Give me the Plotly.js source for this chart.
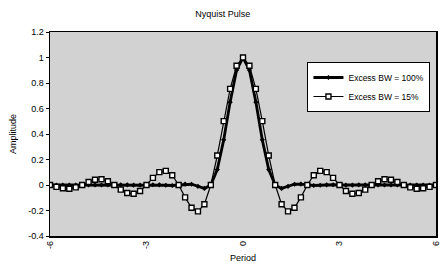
<!DOCTYPE html>
<html><head><meta charset="utf-8">
<script src="https://cdn.plot.ly/plotly-3.0.1.min.js"></script>
<style>html,body{margin:0;padding:0;background:#fff}#chart{width:441px;height:275px}</style>
</head><body><div id="chart"></div>
<script>
// Period, sampled every 0.2 from -6 to 6
const periodHalf = [0,0.2,0.4,0.6,0.8,1.0,1.2,1.4,1.6,1.8,2.0,2.2,2.4,2.6,2.8,3.0,3.2,3.4,3.6,3.8,4.0,4.2,4.4,4.6,4.8,5.0,5.2,5.4,5.6,5.8,6.0];
// Amplitude read for the positive half (the pulse is symmetric)
const bw100Half = [1,0.901,0.650,0.354,0.121,0,-0.027,-0.010,0.006,0.007,0,-0.004,-0.002,0.001,0.002,0,-0.001,-0.001,0.001,0.001,0,0,0,0,0,0,0,0,0,0,0];
const bw15Half = [1,0.935,0.754,0.501,0.231,0,-0.151,-0.207,-0.179,-0.097,0,0.077,0.111,0.101,0.056,0,-0.047,-0.069,-0.063,-0.036,0,0.030,0.045,0.041,0.023,0,-0.019,-0.029,-0.026,-0.015,0];
const seriesNames = ['Excess BW = 100%','Excess BW = 15%'];
const yTicks = [-0.4,-0.2,0,0.2,0.4,0.6,0.8,1,1.2];
const yTickText = ['-0.4','-0.2','0','0.2','0.4','0.6','0.8','1','1.2'];
const xTicks = [-6,-3,0,3,6];

const period = periodHalf.slice(1).reverse().map(v=>-v).concat(periodHalf);
const bw100 = bw100Half.slice(1).reverse().concat(bw100Half);
const bw15 = bw15Half.slice(1).reverse().concat(bw15Half);

const font = {family:'Liberation Sans, Arial, sans-serif', color:'#000', size:9};
const traces = [
  {x:period, y:bw100, name:seriesNames[0], mode:'lines+markers',
   line:{color:'#000', width:2.8}, marker:{symbol:'diamond', size:4, color:'#000'}},
  {x:period, y:bw15, name:seriesNames[1], mode:'lines+markers',
   line:{color:'#000', width:1.2}, marker:{symbol:'square', size:5, color:'#fff', line:{color:'#000', width:1.4}}}
];
const layout = {
  width:441, height:275,
  margin:{l:50, r:5, t:32, b:39},
  paper_bgcolor:'#fff', plot_bgcolor:'#d2d2d2',
  font:font,
  title:{text:'Nyquist Pulse', x:0.505, xanchor:'center', y:0.95, yanchor:'middle', font:{family:font.family, size:9, color:'#000'}},
  xaxis:{range:[-6,6], tickvals:xTicks, ticktext:xTicks.map(String), tickangle:-90,
    showgrid:false, zeroline:false, showline:true, linecolor:'#000', linewidth:1.5, mirror:true,
    ticks:'', tickfont:{size:9}, ticklabeloverflow:'allow',
    title:{text:'Period', font:{size:9}, standoff:6}},
  yaxis:{range:[-0.4,1.2], tickvals:yTicks, ticktext:yTickText,
    showgrid:false, zeroline:false, showline:true, linecolor:'#000', linewidth:1.5, mirror:true,
    ticks:'outside', ticklen:3, tickcolor:'#000', tickfont:{size:9},
    title:{text:'Amplitude', font:{size:9}, standoff:10}},
  showlegend:true,
  legend:{x:0.667, y:0.853, xanchor:'left', yanchor:'top', bgcolor:'#fff', bordercolor:'#000', borderwidth:1,
    font:{size:8.5}, tracegroupgap:0, itemwidth:30}
};
Plotly.newPlot('chart', traces, layout, {displayModeBar:false, staticPlot:true});
</script></body></html>
